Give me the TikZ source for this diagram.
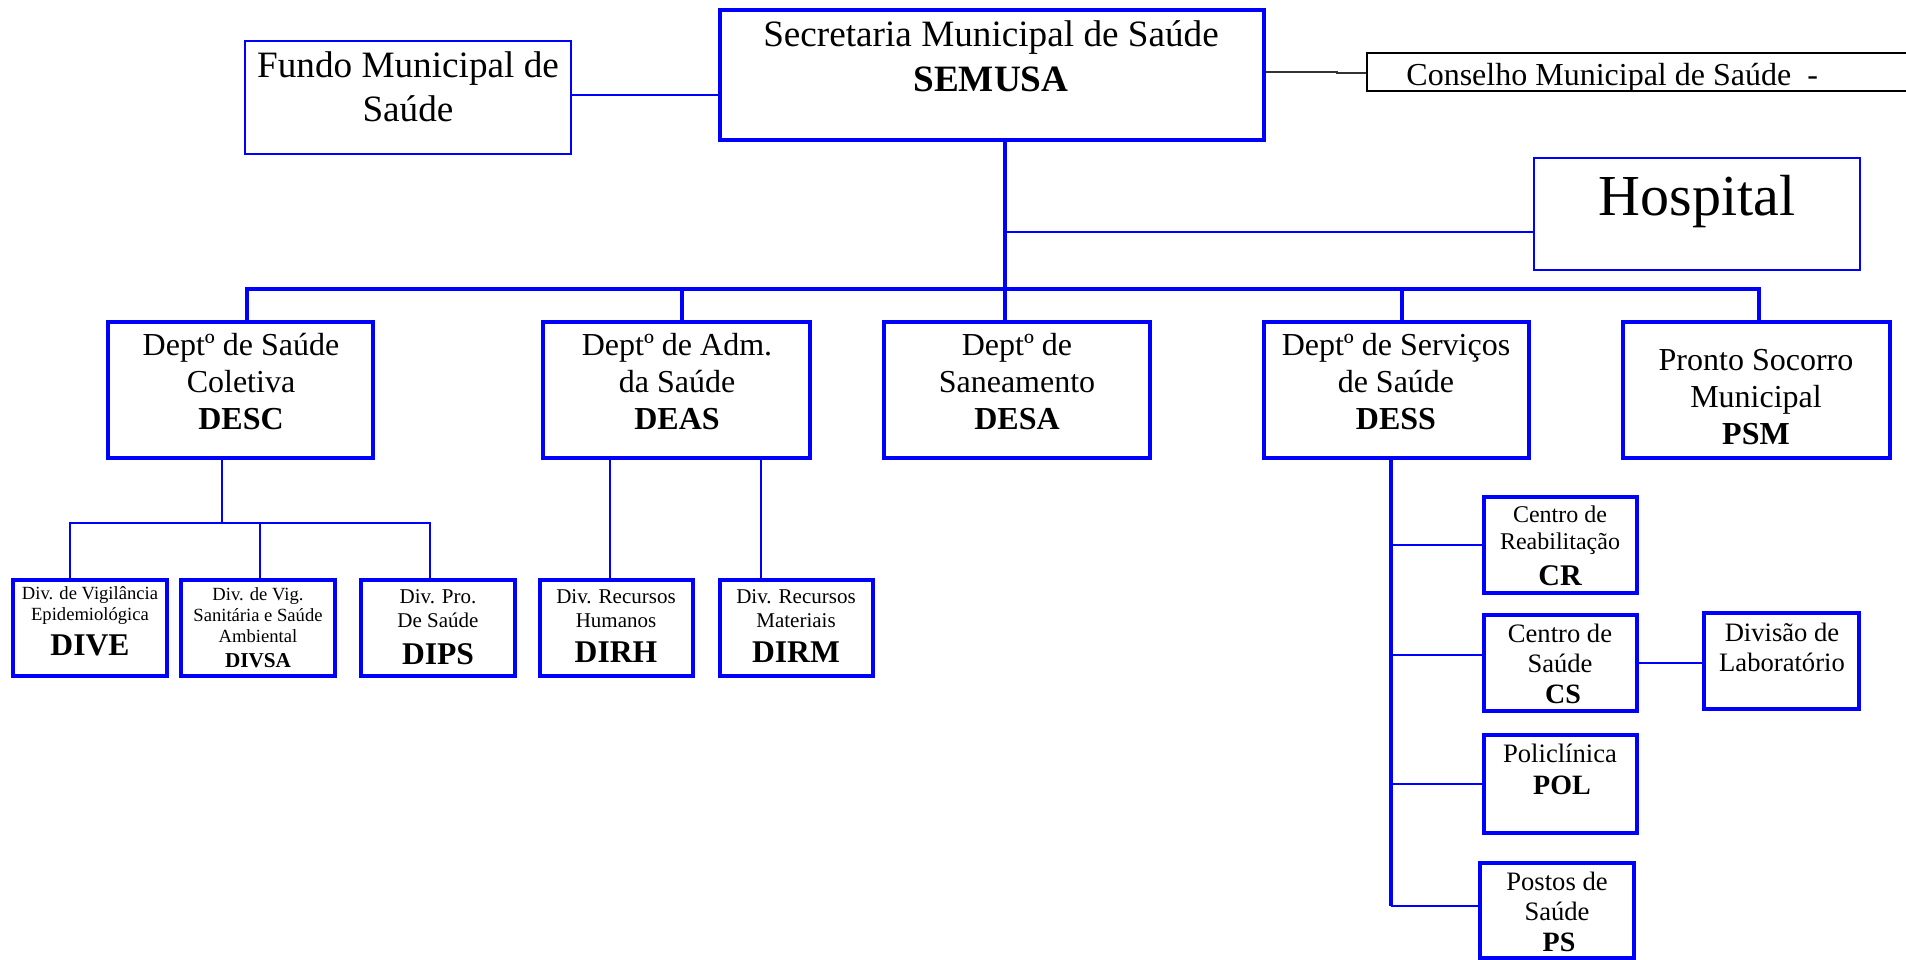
\documentclass[tikz,border=0pt]{standalone}
\usepackage{fontspec}
\setmainfont{Liberation Serif}
\usetikzlibrary{fit}
\definecolor{orgblue}{RGB}{0,0,255}
\tikzset{
  bigbox/.style={draw=orgblue, line width=2.2pt, inner sep=0pt},
  smallbox/.style={draw=orgblue, line width=0.6pt, inner sep=0pt},
  blackbox/.style={draw=black, line width=0.6pt, inner sep=0pt},
  bus/.style={draw=orgblue, line width=2.4pt},
  link/.style={draw=orgblue, line width=0.75pt},
  txt/.style={anchor=base, align=center, inner sep=0pt},
  fbig/.style={font=\fontsize{18.6}{22}\selectfont},
  fdept/.style={font=\fontsize{16}{18.25}\selectfont},
  fdeptb/.style={font=\fontsize{16}{18.25}\selectfont\bfseries},
  ftiny/.style={font=\fontsize{9.3}{10.5}\selectfont},
  fsmall/.style={font=\fontsize{10.5}{11.8}\selectfont},
  fdivb/.style={font=\fontsize{15.8}{17}\selectfont\bfseries},
  fmid/.style={font=\fontsize{13.3}{15}\selectfont},
  fmidb/.style={font=\fontsize{14}{15}\selectfont\bfseries},
}
\begin{document}
\begin{tikzpicture}[x=0.5pt,y=-0.5pt]
\useasboundingbox (0,0) rectangle (1906,959);

% ---- top level boxes
\node[smallbox, fit={(245,41) (571,154)}] (fundo) {};
\node[bigbox, fit={(720,10) (1264,140)}] (semusa) {};
\node[blackbox, fit={(1367,53) (1920,91)}] (conselho) {};
\node[smallbox, fit={(1534,158) (1860,270)}] (hosp) {};

% multi-line text nodes are placed at the baseline of their last line
\node[txt, fbig] (fundo-t) at (408,121) {Fundo Municipal de\\Saúde};
\node[txt, fbig] (semusa-t) at (991,46) {Secretaria Municipal de Saúde};
\node[txt, font=\fontsize{18.6}{22.5}\selectfont\bfseries] (semusa-c) at (991,91) {SEMUSA};
\node[anchor=base west, inner sep=0pt, font=\fontsize{16}{18}\selectfont] (conselho-t) at (1406,85) {Conselho Municipal de Saúde\ \ -};
\node[txt, font=\fontsize{29}{33}\selectfont] (hosp-t) at (1697,215) {Hospital};

% ---- department boxes
\node[bigbox, fit={(108,322) (373,458)}] (desc) {};
\node[bigbox, fit={(543,322) (810,458)}] (deas) {};
\node[bigbox, fit={(884,322) (1150,458)}] (desa) {};
\node[bigbox, fit={(1264,322) (1529,458)}] (dess) {};
\node[bigbox, fit={(1623,322) (1890,458)}] (psm) {};

\node[txt, fdept] (desc-t) at (241,392) {Deptº de Saúde\\Coletiva};
\node[txt, fdeptb] (desc-c) at (241,429) {DESC};
\node[txt, fdept] (deas-t) at (677,392) {Deptº de Adm.\\da Saúde};
\node[txt, fdeptb] (deas-c) at (677,429) {DEAS};
\node[txt, fdept] (desa-t) at (1017,392) {Deptº de\\Saneamento};
\node[txt, fdeptb] (desa-c) at (1017,429) {DESA};
\node[txt, fdept] (dess-t) at (1396,392) {Deptº de Serviços\\de Saúde};
\node[txt, fdeptb] (dess-c) at (1396,429) {DESS};
\node[txt, fdept] (psm-t) at (1756,407) {Pronto Socorro\\Municipal};
\node[txt, fdeptb] (psm-c) at (1756,444) {PSM};

% ---- divisions
\node[bigbox, fit={(13,580) (167,676)}] (dive) {};
\node[bigbox, fit={(181,580) (335,676)}] (divsa) {};
\node[bigbox, fit={(361,580) (515,676)}] (dips) {};
\node[bigbox, fit={(540,580) (693,676)}] (dirh) {};
\node[bigbox, fit={(720,580) (873,676)}] (dirm) {};

\node[txt, ftiny] (dive-t) at (90,620) {Div. de Vigilância\\Epidemiológica};
\node[txt, fdivb] (dive-c) at (90,655) {DIVE};
\node[txt, ftiny] (divsa-t) at (258,642) {Div. de Vig.\\Sanitária e Saúde\\Ambiental};
\node[txt, font=\fontsize{10.6}{12}\selectfont\bfseries] (divsa-c) at (258,667) {DIVSA};
\node[txt, fsmall] (dips-t) at (438,627) {Div. Pro.\\De Saúde};
\node[txt, fdivb] (dips-c) at (438,664) {DIPS};
\node[txt, fsmall] (dirh-t) at (616,627) {Div. Recursos\\Humanos};
\node[txt, fdivb] (dirh-c) at (616,662) {DIRH};
\node[txt, fsmall] (dirm-t) at (796,627) {Div. Recursos\\Materiais};
\node[txt, fdivb] (dirm-c) at (796,662) {DIRM};

% ---- DESS units
\node[bigbox, fit={(1484,497) (1637,593)}] (cr) {};
\node[bigbox, fit={(1484,615) (1637,711)}] (cs) {};
\node[bigbox, fit={(1704,613) (1859,709)}] (lab) {};
\node[bigbox, fit={(1484,735) (1637,833)}] (pol) {};
\node[bigbox, fit={(1480,863) (1634,958)}] (ps) {};

\node[txt, font=\fontsize{12}{13.2}\selectfont] (cr-t) at (1560,549) {Centro de\\Reabilitação};
\node[txt, font=\fontsize{15}{16}\selectfont\bfseries] (cr-c) at (1560,585) {CR};
\node[txt, fmid] (cs-t) at (1560,672) {Centro de\\Saúde};
\node[txt, fmidb] (cs-c) at (1563,703) {CS};
\node[txt, fmid] (lab-t) at (1782,671) {Divisão de\\Laboratório};
\node[txt, fmid] (pol-t) at (1560,762) {Policlínica};
\node[txt, fmidb] (pol-c) at (1562,794) {POL};
\node[txt, fmid] (ps-t) at (1557,920) {Postos de\\Saúde};
\node[txt, fmidb] (ps-c) at (1559,951) {PS};

% ---- junction coordinates
\coordinate (j0) at (1005,289);
\coordinate (b1) at (247,289);
\coordinate (b2) at (682,289);
\coordinate (b4) at (1402,289);
\coordinate (b5) at (1759,289);
\coordinate (hj) at (1005,232);
\coordinate (fj) at (0,95);
\coordinate (cj1) at (1337,72);
\coordinate (cj2) at (1337,73);
\coordinate (dj) at (222,523);
\coordinate (dl) at (70,523);
\coordinate (dr) at (430,523);
\coordinate (dm) at (260,523);
\coordinate (ea) at (610,0);
\coordinate (eb) at (761,0);
\coordinate (st) at (1391,0);
\coordinate (sb) at (1391,906);

% ---- connectors: top
\draw[link] (fundo.east |- fj) -- (semusa.west |- fj);
\draw[draw=black!80, line width=0.7pt] (semusa.east |- cj1) -- (cj1) -- (cj2) -- (conselho.west |- cj2);
\draw[bus] (semusa.south -| j0) -- (j0);
\draw[link] (hj) -- (hj -| hosp.west);
\draw[bus, line join=miter] (desc.north -| b1) -- (b1) -- (b5) -- (psm.north -| b5);
\draw[bus] (b2) -- (deas.north -| b2);
\draw[bus] (j0) -- (desa.north -| j0);
\draw[bus] (b4) -- (dess.north -| b4);

% ---- DESC subtree
\draw[link] (desc.south -| dj) -- (dj);
\draw[link] (dive.north -| dl) -- (dl) -- (dr) -- (dips.north -| dr);
\draw[link] (dm) -- (divsa.north -| dm);

% ---- DEAS subtree
\draw[link] (deas.south -| ea) -- (dirh.north -| ea);
\draw[link] (deas.south -| eb) -- (dirm.north -| eb);

% ---- DESS subtree
\draw[bus] (dess.south -| st) -- (sb);
\draw[link] (cr.west -| st) -- (cr.west);
\draw[link] (st |- 0,655) -- (cs.west |- 0,655);
\draw[link] (pol.west -| st) -- (pol.west);
\draw[link] (sb) -- (ps.west |- sb);
\draw[link] (cs.east) -- (cs.east -| lab.west);
\end{tikzpicture}
\end{document}
